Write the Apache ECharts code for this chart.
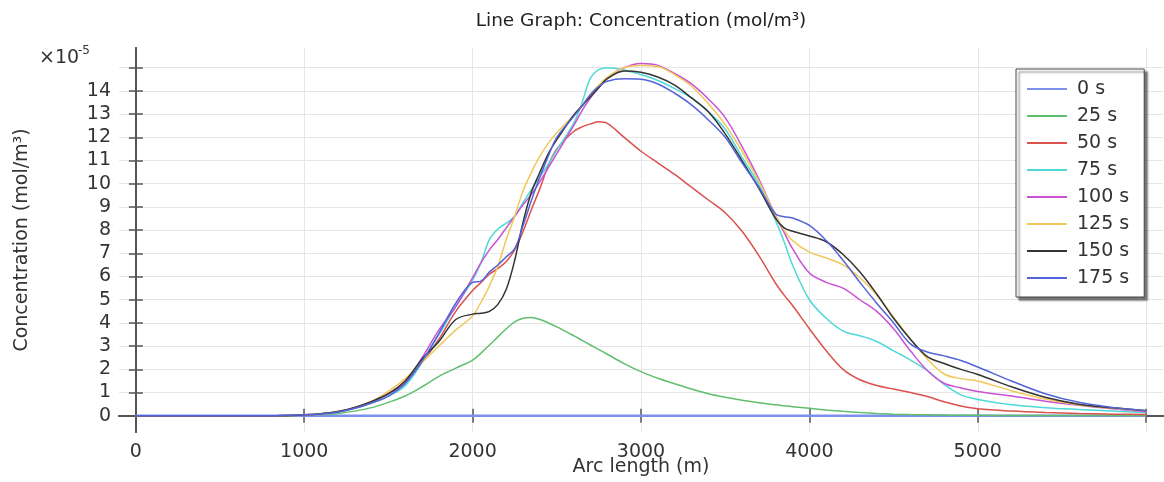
<!DOCTYPE html>
<html>
<head>
<meta charset="utf-8">
<script src="https://cdn.jsdelivr.net/npm/echarts@6/dist/echarts.min.js"></script>
<style>
html,body{margin:0;padding:0;background:#fff;}
#chart{width:1164px;height:482px;}
</style>
</head>
<body>
<div id="chart"></div>
<script>
// Arc length (m)
const arcLength = [0, 500, 800, 1000, 1100, 1200, 1300, 1400, 1500, 1600, 1700, 1800, 1900, 2000, 2050, 2100, 2150, 2200, 2250, 2300, 2350, 2400, 2450, 2500, 2600, 2650, 2700, 2750, 2800, 2900, 3000, 3100, 3200, 3300, 3400, 3500, 3600, 3700, 3800, 3850, 3900, 4000, 4100, 4200, 4300, 4400, 4500, 4600, 4700, 4800, 4900, 5000, 5200, 5400, 5600, 5800, 6000];

// Concentration in units of 1e-5 mol/m^3
const conc0 = [0, 0, 0, 0, 0, 0, 0, 0, 0, 0, 0, 0, 0, 0, 0, 0, 0, 0, 0, 0, 0, 0, 0, 0, 0, 0, 0, 0, 0, 0, 0, 0, 0, 0, 0, 0, 0, 0, 0, 0, 0, 0, 0, 0, 0, 0, 0, 0, 0, 0, 0, 0, 0, 0, 0, 0, 0];
const conc25 = [0, 0, 0, 0.02, 0.05, 0.1, 0.2, 0.35, 0.58, 0.85, 1.25, 1.7, 2.05, 2.4, 2.7, 3.05, 3.4, 3.75, 4.05, 4.2, 4.24, 4.15, 4.0, 3.83, 3.45, 3.25, 3.05, 2.85, 2.65, 2.25, 1.9, 1.62, 1.38, 1.15, 0.95, 0.8, 0.67, 0.56, 0.47, 0.43, 0.39, 0.32, 0.25, 0.19, 0.14, 0.1, 0.07, 0.05, 0.04, 0.03, 0.02, 0.02, 0.01, 0.01, 0.01, 0.01, 0.01];
const conc50 = [0, 0, 0, 0.04, 0.08, 0.17, 0.35, 0.6, 0.95, 1.5, 2.3, 3.3, 4.5, 5.4, 5.75, 6.1, 6.35, 6.65, 7.15, 7.95, 8.9, 9.8, 10.8, 11.5, 12.25, 12.45, 12.58, 12.67, 12.6, 12.0, 11.4, 10.9, 10.4, 9.85, 9.3, 8.75, 7.95, 6.9, 5.7, 5.2, 4.75, 3.75, 2.8, 2.0, 1.55, 1.3, 1.15, 1.0, 0.83, 0.6, 0.42, 0.3, 0.2, 0.14, 0.1, 0.07, 0.05];
const conc75 = [0, 0, 0, 0.04, 0.08, 0.16, 0.32, 0.55, 0.85, 1.3, 2.3, 3.5, 4.7, 5.85, 6.6, 7.6, 8.05, 8.3, 8.6, 9.2, 9.75, 10.3, 10.85, 11.45, 12.6, 13.5, 14.55, 14.92, 15.0, 14.9, 14.7, 14.45, 14.1, 13.7, 13.1, 12.35, 11.15, 9.95, 8.4, 7.5, 6.5, 5.0, 4.2, 3.65, 3.45, 3.2, 2.8, 2.4, 1.95, 1.35, 0.9, 0.7, 0.47, 0.35, 0.27, 0.2, 0.14];
const conc100 = [0, 0, 0, 0.04, 0.08, 0.16, 0.32, 0.58, 0.95, 1.4, 2.5, 3.7, 4.7, 5.95, 6.6, 7.15, 7.6, 8.1, 8.6, 9.1, 9.55, 10.1, 10.7, 11.3, 12.5, 13.15, 13.7, 14.15, 14.55, 15.0, 15.18, 15.1, 14.75, 14.3, 13.65, 12.85, 11.6, 10.2, 8.6, 7.9, 7.2, 6.15, 5.75, 5.5, 5.0, 4.5, 3.75, 2.8, 1.95, 1.4, 1.2, 1.05, 0.85, 0.63, 0.45, 0.3, 0.17];
const conc125 = [0, 0, 0, 0.04, 0.09, 0.18, 0.36, 0.62, 1.05, 1.6, 2.3, 3.0, 3.7, 4.3, 4.9, 5.6, 6.45, 7.6, 8.6, 9.7, 10.5, 11.2, 11.75, 12.2, 12.95, 13.4, 13.85, 14.25, 14.6, 15.0, 15.1, 15.05, 14.7, 14.2, 13.45, 12.55, 11.4, 10.1, 8.65, 8.0, 7.55, 7.05, 6.8, 6.5, 5.95, 5.2, 4.25, 3.3, 2.45, 1.8, 1.6, 1.5, 1.08, 0.72, 0.47, 0.32, 0.2];
const conc150 = [0, 0, 0, 0.04, 0.09, 0.18, 0.36, 0.62, 0.95, 1.5, 2.45, 3.2, 4.15, 4.38, 4.42, 4.5, 4.8, 5.45, 6.7, 8.35, 9.65, 10.5, 11.3, 11.9, 12.95, 13.35, 13.75, 14.15, 14.53, 14.86, 14.8, 14.6, 14.25, 13.7, 13.1, 12.15, 11.0, 9.8, 8.5, 8.1, 7.95, 7.75, 7.5, 6.95, 6.2, 5.25, 4.2, 3.3, 2.55, 2.25, 2.0, 1.78, 1.25, 0.8, 0.5, 0.34, 0.22];
const conc175 = [0, 0, 0, 0.04, 0.08, 0.16, 0.32, 0.55, 0.85, 1.4, 2.35, 3.55, 4.85, 5.75, 5.8, 6.2, 6.5, 6.85, 7.2, 8.2, 9.3, 10.3, 11.2, 12.0, 12.9, 13.35, 13.85, 14.2, 14.42, 14.52, 14.5, 14.3, 13.9, 13.4, 12.75, 12.0, 10.9, 9.85, 8.7, 8.58, 8.52, 8.2, 7.55, 6.7, 5.75, 4.85, 4.0, 3.1, 2.75, 2.58, 2.38, 2.1, 1.5, 0.95, 0.58, 0.36, 0.22];

const seriesNames = ['0 s', '25 s', '50 s', '75 s', '100 s', '125 s', '150 s', '175 s'];
const seriesValues = [conc0, conc25, conc50, conc75, conc100, conc125, conc150, conc175];
const seriesColors = ['#7d90ee', '#5fbf6c', '#d9524e', '#4fd8d8', '#c952d4', '#f0c85a', '#333333', '#5363d8'];

const xTicks = [0, 1000, 2000, 3000, 4000, 5000, 6000];
const xLabels = [0, 1000, 2000, 3000, 4000, 5000];
const yTicks = [0, 1, 2, 3, 4, 5, 6, 7, 8, 9, 10, 11, 12, 13, 14, 15];
const yLabels = [0, 1, 2, 3, 4, 5, 6, 7, 8, 9, 10, 11, 12, 13, 14];

const FONT = 'DejaVu Sans';
const axisLineStyle = { color: '#555', width: 2 };
const tickStyle = { color: '#555', width: 1.5 };
const gridLineStyle = { color: '#e6e6e6', width: 1 };

const chart = echarts.init(document.getElementById('chart'), null, { renderer: 'canvas' });

const series = seriesNames.map((name, k) => ({
  name: name,
  type: 'line',
  xAxisIndex: 0,
  yAxisIndex: 0,
  symbol: 'none',
  smooth: 0.35,
  lineStyle: { width: k === 0 ? 2.5 : 1.5, color: seriesColors[k] },
  itemStyle: { color: seriesColors[k] },
  data: arcLength.map((x, i) => [x, seriesValues[k][i]]),
  z: 2 + k
}));

chart.setOption({
  animation: false,
  textStyle: { fontFamily: FONT },
  title: {
    text: 'Line Graph: Concentration (mol/m³)',
    left: 636,
    top: 7,
    textAlign: 'center',
    textStyle: { fontFamily: FONT, fontSize: 18.5, fontWeight: 'normal', color: '#222' }
  },
  grid: { left: 119, right: 1, top: 48, bottom: 50, outerBoundsMode: 'none', containLabel: false },
  legend: {
    data: seriesNames,
    orient: 'vertical',
    left: 1016,
    top: 69,
    padding: [10, 15, 9, 11],
    icon: 'rect',
    itemWidth: 40,
    itemHeight: 2,
    itemGap: 7,
    backgroundColor: '#fff',
    borderColor: '#444',
    borderWidth: 1,
    shadowColor: 'rgba(0,0,0,0.55)',
    shadowBlur: 2,
    shadowOffsetX: 3,
    shadowOffsetY: 3,
    textStyle: { fontFamily: FONT, fontSize: 19, color: '#333', lineHeight: 20, padding: [0, 0, 0, 5] }
  },
  graphic: [
    { type: 'text', x: 39, y: 49, style: { text: '×10', font: '19px "DejaVu Sans"', fill: '#333' } },
    { type: 'text', x: 78, y: 45, style: { text: '-5', font: '12px "DejaVu Sans"', fill: '#333' } }
  ],
  xAxis: [
    {
      type: 'value', position: 'bottom', min: -100, max: 6100,
      name: 'Arc length (m)', nameLocation: 'middle', nameGap: 26, nameMoveOverlap: false,
      nameTextStyle: { fontFamily: FONT, fontSize: 19, color: '#333' },
      axisLine: { show: true, lineStyle: axisLineStyle },
      axisTick: { show: true, inside: true, length: 7, customValues: xTicks, lineStyle: tickStyle },
      axisLabel: { show: true, customValues: xLabels, formatter: (v) => String(v), fontSize: 19, color: '#333', margin: 11, fontFamily: FONT },
      splitLine: { show: true, lineStyle: gridLineStyle }
    },
    {
      type: 'value', position: 'top', min: -100, max: 6100,
      axisLine: { show: true, lineStyle: axisLineStyle },
      axisTick: { show: true, inside: true, length: 7, customValues: xTicks, lineStyle: tickStyle },
      axisLabel: { show: false },
      splitLine: { show: false }
    }
  ],
  yAxis: [
    {
      type: 'value', position: 'left', min: -0.7, max: 15.85,
      name: 'Concentration (mol/m³)', nameLocation: 'middle', nameGap: 87, nameMoveOverlap: false,
      nameTextStyle: { fontFamily: FONT, fontSize: 19, color: '#333' },
      axisLine: { show: true, lineStyle: axisLineStyle },
      axisTick: { show: true, inside: true, length: 7, customValues: yTicks, lineStyle: tickStyle },
      axisLabel: { show: true, customValues: yLabels, formatter: (v) => String(v), fontSize: 19, color: '#333', margin: 8, fontFamily: FONT },
      splitLine: { show: true, lineStyle: gridLineStyle }
    },
    {
      type: 'value', position: 'right', min: -0.7, max: 15.85,
      axisLine: { show: true, lineStyle: axisLineStyle },
      axisTick: { show: true, inside: true, length: 7, customValues: yTicks, lineStyle: tickStyle },
      axisLabel: { show: false },
      splitLine: { show: false }
    }
  ],
  series: series
});
</script>
</body>
</html>
